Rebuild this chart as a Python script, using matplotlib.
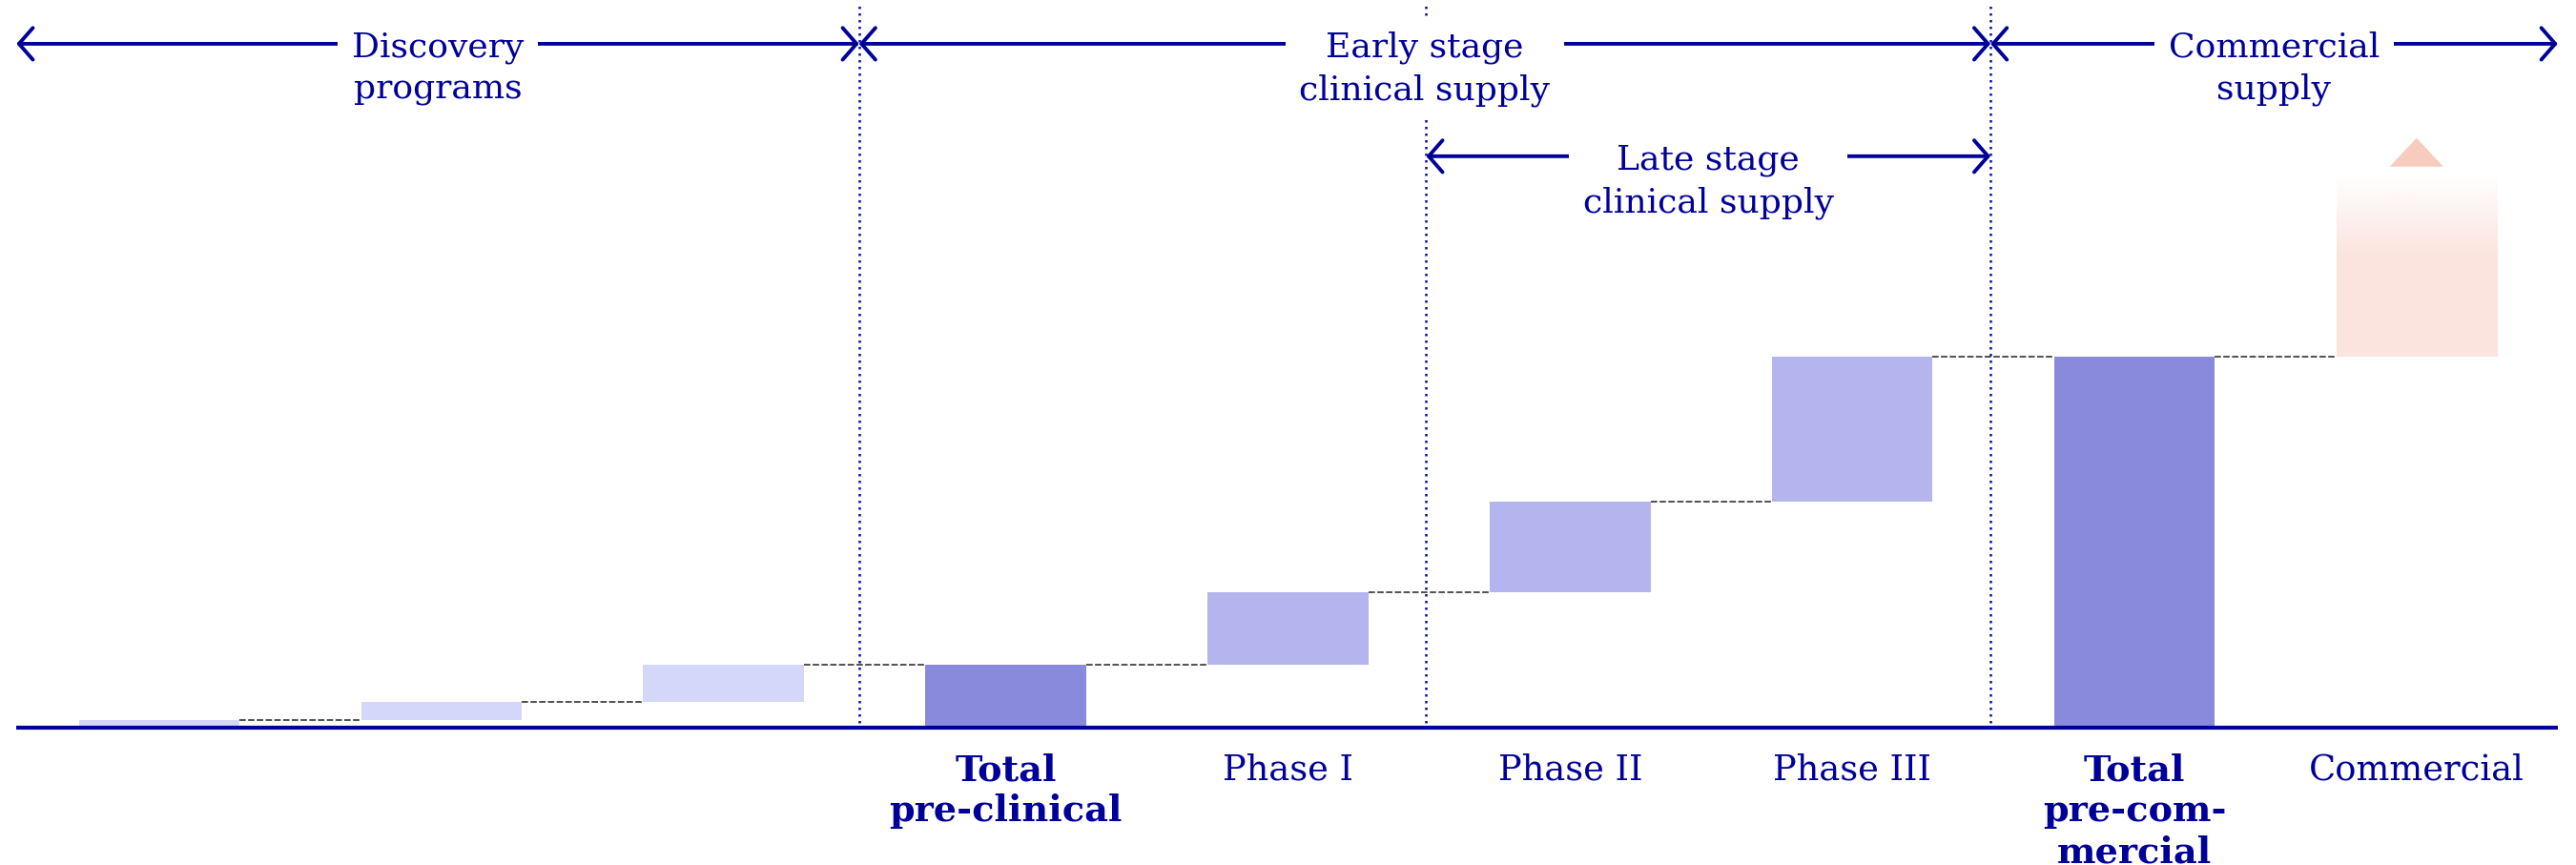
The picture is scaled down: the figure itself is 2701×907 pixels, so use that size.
import numpy as np
import matplotlib
matplotlib.use("Agg")
import matplotlib.pyplot as plt
from matplotlib.patches import Polygon

plt.rcParams['font.family'] = ['DejaVu Serif']

# waterfall data (cumulative development cost, pre-commercial total = 100)
labels = ['', '', '', 'Total\npre-clinical', 'Phase I', 'Phase II',
          'Phase III', 'Total\npre-com-\nmercial', 'Commercial']
bold_labels = [False, False, False, True, False, False, False, True, False]
steps = [2, 5, 10, None, 19.5, 24.5, 39, None, None]
kinds = ['disc', 'disc', 'disc', 'total', 'phase', 'phase', 'phase', 'total', 'comm']
commercial_top = 149
commercial_solid = 127.5

# stage brackets across the top: (text, x0, x1, level)
stage_edges = [2.48, 4.49, 6.49]
stages = [('Discovery\nprograms', -0.506, 2.48, 'top'),
          ('Early stage\nclinical supply', 2.48, 6.49, 'top'),
          ('Commercial\nsupply', 6.49, 8.50, 'top'),
          ('Late stage\nclinical supply', 4.49, 6.49, 'mid')]

navy = '#000099'
colors = {'disc': '#D4D6FA', 'phase': '#B4B5EF', 'total': '#8A8ADD'}
width = 0.57

fig = plt.figure(figsize=(27.01, 9.07), dpi=100)
ax = fig.add_axes([0, 0, 1, 1])
ax.set_xlim(-0.5645, 8.565)
ax.set_ylim(-37.0, 196.1)
ax.axis('off')

# bars
level = 0
tops = []
for i, (s, k) in enumerate(zip(steps, kinds)):
    if k == 'disc' or k == 'phase':
        ax.bar(i, s, bottom=level, width=width, color=colors[k], lw=0, zorder=2)
        level += s
    elif k == 'total':
        ax.bar(i, level, width=width, color=colors[k], lw=0, zorder=2)
    tops.append(level)

# commercial bar fading to white
n = 200
ys = np.linspace(level, commercial_top, n)
alpha = np.clip((commercial_top - ys) / (commercial_top - commercial_solid), 0, 1)
grad = np.zeros((n, 1, 4))
grad[:, 0, :3] = matplotlib.colors.to_rgb('#FCE4DE')
grad[:, 0, 3] = alpha
x8 = len(labels) - 1
ax.imshow(grad, extent=[x8 - width / 2, x8 + width / 2, level, commercial_top],
          origin='lower', aspect='auto', interpolation='bilinear', zorder=2)
ax.add_patch(Polygon([[x8 - 0.095, 151.2], [x8 + 0.095, 151.2], [x8, 158.9]],
                     closed=True, color='#F7CBBE', lw=0, zorder=2))

# dashed connectors between bars
for i in range(len(labels) - 1):
    ax.plot([i + width / 2, i + 1 - width / 2], [tops[i], tops[i]],
            color='#333333', lw=1.2, ls=(0, (4, 1.5)), zorder=1)

# dotted stage separators
for xe in stage_edges:
    ax.plot([xe, xe], [1.3, 194.9], color='#0A0AAA', lw=1.8,
            ls=(0, (1, 1.8)), zorder=1)

# baseline
ax.plot([-0.506, 8.50], [0, 0], color=navy, lw=3.0, zorder=4,
        solid_capstyle='butt')

# stage arrows with labels
for text, x0, x1, lev in stages:
    ya = 184.3 if lev == 'top' else 154.0
    yt = 177.6 if lev == 'top' else 147.2
    ax.annotate('', xy=(x0, ya), xytext=(x1, ya),
                arrowprops=dict(arrowstyle='<->,head_length=0.35,head_width=0.4',
                                color=navy, lw=2.8, mutation_scale=30,
                                shrinkA=0, shrinkB=0), zorder=3)
    ax.text((x0 + x1) / 2, yt, text, ha='center', va='center', fontsize=26,
            color=navy, linespacing=1.38, zorder=5,
            bbox=dict(boxstyle='square,pad=0.4', fc='white', ec='none'))

# category labels
for i, (lab, b) in enumerate(zip(labels, bold_labels)):
    if lab:
        ax.text(i, -6.8, lab, ha='center', va='top',
                fontsize=27.5 if b else 26.5,
                color=navy, fontweight='bold' if b else 'normal',
                linespacing=1.2)

fig.savefig('out.png', dpi=100)
